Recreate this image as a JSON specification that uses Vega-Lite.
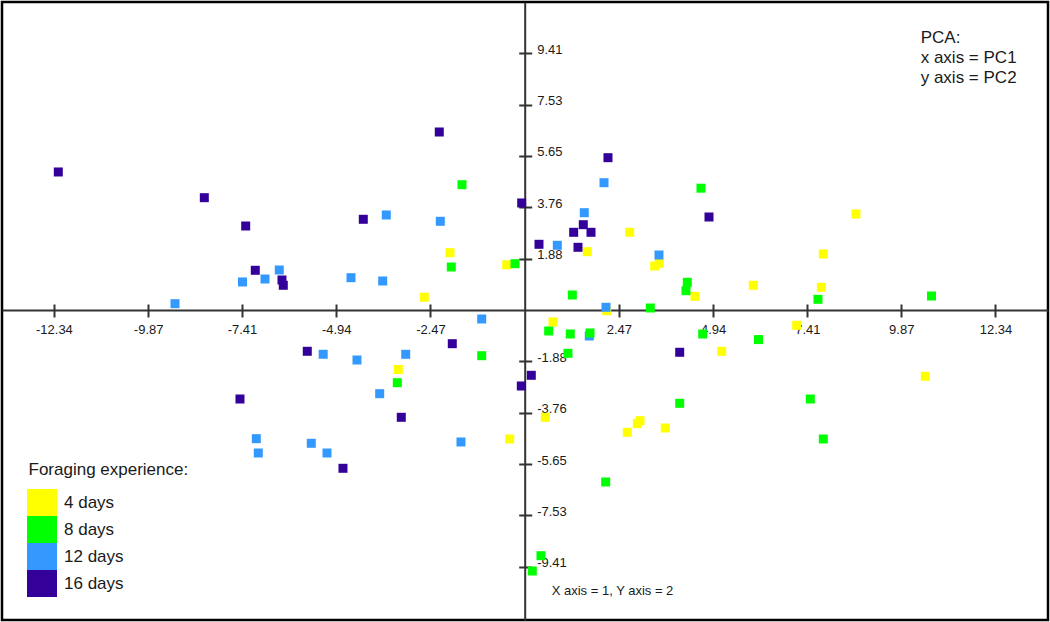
{
  "$schema": "https://vega.github.io/schema/vega-lite/v6.json",
  "width": 1046,
  "height": 618,
  "autosize": {"type": "none"},
  "padding": {"left": 2, "top": 2, "right": 2, "bottom": 2},
  "background": "white",
  "config": {
    "view": {"stroke": "#000000", "strokeWidth": 2.5},
    "font": "Liberation Sans",
    "axis": {"grid": false, "title": null, "labelFont": "Liberation Sans", "labelFontSize": 13, "labelColor": "#1a1a1a", "domainColor": "#333333", "domainWidth": 2, "tickColor": "#333333", "tickWidth": 2, "labelOverlap": false, "labelFlush": false},
    "locale": {"number": {"decimal": ".", "thousands": ",", "grouping": [3], "currency": ["$", ""], "minus": "-"}}
  },
  "datasets": {
    "pts": [
      {"pc1": -1.958, "pc2": 2.101, "group": "4 days"},
      {"pc1": -2.632, "pc2": 0.469, "group": "4 days"},
      {"pc1": -0.472, "pc2": 1.658, "group": "4 days"},
      {"pc1": 1.641, "pc2": 2.138, "group": "4 days"},
      {"pc1": 2.752, "pc2": 2.849, "group": "4 days"},
      {"pc1": 3.408, "pc2": 1.613, "group": "4 days"},
      {"pc1": 3.528, "pc2": 1.713, "group": "4 days"},
      {"pc1": 4.464, "pc2": 0.502, "group": "4 days"},
      {"pc1": 2.149, "pc2": -0.026, "group": "4 days"},
      {"pc1": 0.742, "pc2": -0.44, "group": "4 days"},
      {"pc1": 8.684, "pc2": 3.52, "group": "4 days"},
      {"pc1": 7.827, "pc2": 2.054, "group": "4 days"},
      {"pc1": 5.992, "pc2": 0.906, "group": "4 days"},
      {"pc1": 7.775, "pc2": 0.832, "group": "4 days"},
      {"pc1": 7.13, "pc2": -0.561, "group": "4 days"},
      {"pc1": 5.164, "pc2": -1.514, "group": "4 days"},
      {"pc1": 10.501, "pc2": -2.431, "group": "4 days"},
      {"pc1": -3.313, "pc2": -2.182, "group": "4 days"},
      {"pc1": 0.54, "pc2": -3.935, "group": "4 days"},
      {"pc1": -0.393, "pc2": -4.73, "group": "4 days"},
      {"pc1": 2.689, "pc2": -4.485, "group": "4 days"},
      {"pc1": 2.952, "pc2": -4.169, "group": "4 days"},
      {"pc1": 3.022, "pc2": -4.059, "group": "4 days"},
      {"pc1": 3.685, "pc2": -4.327, "group": "4 days"},
      {"pc1": -9.166, "pc2": 0.231, "group": "12 days"},
      {"pc1": -7.397, "pc2": 1.027, "group": "12 days"},
      {"pc1": -6.807, "pc2": 1.137, "group": "12 days"},
      {"pc1": -6.433, "pc2": 1.467, "group": "12 days"},
      {"pc1": -4.553, "pc2": 1.184, "group": "12 days"},
      {"pc1": -3.628, "pc2": 3.484, "group": "12 days"},
      {"pc1": -2.212, "pc2": 3.253, "group": "12 days"},
      {"pc1": -3.722, "pc2": 1.063, "group": "12 days"},
      {"pc1": 2.079, "pc2": 4.668, "group": "12 days"},
      {"pc1": 1.562, "pc2": 3.568, "group": "12 days"},
      {"pc1": 0.855, "pc2": 2.373, "group": "12 days"},
      {"pc1": 3.52, "pc2": 2.017, "group": "12 days"},
      {"pc1": 2.131, "pc2": 0.099, "group": "12 days"},
      {"pc1": -5.282, "pc2": -1.624, "group": "12 days"},
      {"pc1": -1.127, "pc2": -0.33, "group": "12 days"},
      {"pc1": -3.119, "pc2": -1.624, "group": "12 days"},
      {"pc1": -4.396, "pc2": -1.834, "group": "12 days"},
      {"pc1": -3.801, "pc2": -3.069, "group": "12 days"},
      {"pc1": -1.67, "pc2": -4.84, "group": "12 days"},
      {"pc1": 1.693, "pc2": -0.953, "group": "12 days"},
      {"pc1": -7.035, "pc2": -4.719, "group": "12 days"},
      {"pc1": -6.983, "pc2": -5.244, "group": "12 days"},
      {"pc1": -5.594, "pc2": -4.888, "group": "12 days"},
      {"pc1": -5.182, "pc2": -5.244, "group": "12 days"},
      {"pc1": -1.644, "pc2": 4.595, "group": "8 days"},
      {"pc1": -1.924, "pc2": 1.577, "group": "8 days"},
      {"pc1": -0.254, "pc2": 1.698, "group": "8 days"},
      {"pc1": 1.248, "pc2": 0.55, "group": "8 days"},
      {"pc1": 3.292, "pc2": 0.073, "group": "8 days"},
      {"pc1": 4.262, "pc2": 1.016, "group": "8 days"},
      {"pc1": 4.228, "pc2": 0.708, "group": "8 days"},
      {"pc1": 4.621, "pc2": 4.466, "group": "8 days"},
      {"pc1": 0.629, "pc2": -0.77, "group": "8 days"},
      {"pc1": 1.195, "pc2": -0.88, "group": "8 days"},
      {"pc1": 1.712, "pc2": -0.843, "group": "8 days"},
      {"pc1": 4.666, "pc2": -0.88, "group": "8 days"},
      {"pc1": 7.688, "pc2": 0.392, "group": "8 days"},
      {"pc1": 6.128, "pc2": -1.085, "group": "8 days"},
      {"pc1": 10.663, "pc2": 0.513, "group": "8 days"},
      {"pc1": 7.486, "pc2": -3.264, "group": "8 days"},
      {"pc1": 7.827, "pc2": -4.73, "group": "8 days"},
      {"pc1": 1.135, "pc2": -1.588, "group": "8 days"},
      {"pc1": -1.127, "pc2": -1.676, "group": "8 days"},
      {"pc1": -3.339, "pc2": -2.666, "group": "8 days"},
      {"pc1": 4.063, "pc2": -3.421, "group": "8 days"},
      {"pc1": 2.123, "pc2": -6.307, "group": "8 days"},
      {"pc1": 0.427, "pc2": -9.01, "group": "8 days"},
      {"pc1": 0.199, "pc2": -9.571, "group": "8 days"},
      {"pc1": -12.225, "pc2": 5.061, "group": "16 days"},
      {"pc1": -8.398, "pc2": 4.118, "group": "16 days"},
      {"pc1": -7.313, "pc2": 3.08, "group": "16 days"},
      {"pc1": -7.062, "pc2": 1.456, "group": "16 days"},
      {"pc1": -6.362, "pc2": 1.1, "group": "16 days"},
      {"pc1": -6.328, "pc2": 0.906, "group": "16 days"},
      {"pc1": -2.239, "pc2": 6.527, "group": "16 days"},
      {"pc1": -4.231, "pc2": 3.326, "group": "16 days"},
      {"pc1": -0.079, "pc2": 3.924, "group": "16 days"},
      {"pc1": 2.183, "pc2": 5.585, "group": "16 days"},
      {"pc1": 0.375, "pc2": 2.409, "group": "16 days"},
      {"pc1": 1.284, "pc2": 2.849, "group": "16 days"},
      {"pc1": 1.536, "pc2": 3.128, "group": "16 days"},
      {"pc1": 1.738, "pc2": 2.849, "group": "16 days"},
      {"pc1": 1.397, "pc2": 2.299, "group": "16 days"},
      {"pc1": 4.831, "pc2": 3.41, "group": "16 days"},
      {"pc1": -1.898, "pc2": -1.236, "group": "16 days"},
      {"pc1": 0.173, "pc2": -2.395, "group": "16 days"},
      {"pc1": -0.089, "pc2": -2.787, "group": "16 days"},
      {"pc1": -3.235, "pc2": -3.935, "group": "16 days"},
      {"pc1": 4.063, "pc2": -1.551, "group": "16 days"},
      {"pc1": -5.699, "pc2": -1.514, "group": "16 days"},
      {"pc1": -7.463, "pc2": -3.264, "group": "16 days"},
      {"pc1": -4.763, "pc2": -5.805, "group": "16 days"}
    ],
    "pcaNote": [
      {"x": 10.38, "y": 9.802, "label": "PCA:"},
      {"x": 10.38, "y": 9.069, "label": "x axis = PC1"},
      {"x": 10.38, "y": 8.335, "label": "y axis = PC2"}
    ],
    "axisNote": [
      {"x": 0.708, "y": -10.451, "label": "X axis = 1, Y axis = 2"}
    ]
  },
  "layer": [
    {
      "data": {"name": "pts"},
      "mark": {"type": "point", "shape": "square", "filled": true, "size": 81, "opacity": 1, "strokeWidth": 0},
      "encoding": {
        "x": {"field": "pc1", "type": "quantitative",
          "scale": {"domain": [-13.701, 13.717], "nice": false, "zero": false},
          "axis": {"orient": "bottom", "offset": -310, "values": [-12.34, -9.87, -7.41, -4.94, -2.47, 2.47, 4.94, 7.41, 9.87, 12.34], "format": ".2f", "tickSize": 7, "labelPadding": 6}},
        "y": {"field": "pc2", "type": "quantitative",
          "scale": {"domain": [-11.368, 11.294], "nice": false, "zero": false},
          "axis": {"orient": "right", "offset": -523.3, "values": [-9.41, -7.53, -5.65, -3.76, -1.88, 1.88, 3.76, 5.65, 7.53, 9.41], "format": ".2f", "tickSize": 7, "labelPadding": 5, "labelOffset": -4}},
        "color": {"field": "group", "type": "nominal",
          "scale": {"domain": ["4 days", "8 days", "12 days", "16 days"], "range": ["#FFFF00", "#00FF00", "#3399FF", "#330099"]},
          "legend": {"orient": "none", "legendX": 26.5, "legendY": 460, "title": "Foraging experience:", "titleFontSize": 17, "titleFontWeight": "normal", "titleColor": "#1a1a1a", "titleFont": "Liberation Sans", "titlePadding": 10, "labelFontSize": 17, "labelColor": "#1a1a1a", "labelFont": "Liberation Sans", "labelOffset": 8.5, "symbolType": "M-1.11,-1H1.11V1H-1.11Z", "symbolSize": 729, "symbolStrokeWidth": 0, "symbolOpacity": 1, "rowPadding": 0, "padding": 0}}
      }
    },
    {
      "data": {"name": "pcaNote"},
      "mark": {"type": "text", "align": "left", "baseline": "alphabetic", "fontSize": 17, "font": "Liberation Sans", "color": "#1a1a1a"},
      "encoding": {
        "x": {"field": "x", "type": "quantitative",
          "axis": {"orient": "top", "offset": -308, "values": [-12.34, -9.87, -7.41, -4.94, -2.47, 2.47, 4.94, 7.41, 9.87, 12.34], "labels": false, "domain": false, "tickSize": 6}},
        "y": {"field": "y", "type": "quantitative",
          "axis": {"orient": "left", "offset": -522.7, "values": [-9.41, -7.53, -5.65, -3.76, -1.88, 1.88, 3.76, 5.65, 7.53, 9.41], "labels": false, "domain": false, "tickSize": 6}},
        "text": {"field": "label"}
      }
    },
    {
      "data": {"name": "axisNote"},
      "mark": {"type": "text", "align": "left", "baseline": "alphabetic", "fontSize": 13, "font": "Liberation Sans", "color": "#1a1a1a"},
      "encoding": {
        "x": {"field": "x", "type": "quantitative", "axis": null},
        "y": {"field": "y", "type": "quantitative", "axis": null},
        "text": {"field": "label"}
      }
    }
  ],
  "resolve": {"axis": {"x": "independent", "y": "independent"}}
}
